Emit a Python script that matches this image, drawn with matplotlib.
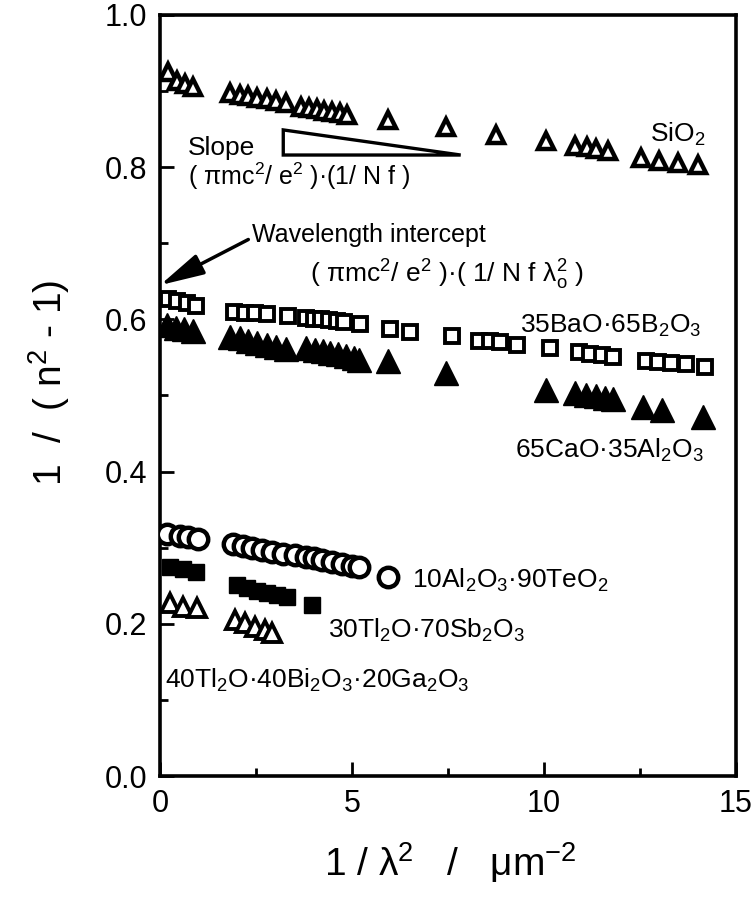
import matplotlib
matplotlib.use("Agg")
import matplotlib.pyplot as plt
from matplotlib.patches import Polygon
from matplotlib.ticker import MultipleLocator, FormatStrFormatter

plt.rcParams['font.family'] = ['Liberation Sans', 'DejaVu Sans']
plt.rcParams['mathtext.fontset'] = 'custom'
plt.rcParams['mathtext.rm'] = 'Liberation Sans'
plt.rcParams['mathtext.it'] = 'Liberation Sans:italic'
plt.rcParams['mathtext.default'] = 'regular'

# ---------------- data ----------------
sio2_x = [0.2, 0.45, 0.65, 0.85, 1.83, 2.09, 2.3, 2.53, 2.78, 3.03, 3.29,
          3.68, 3.89, 4.09, 4.28, 4.49, 4.70, 4.88, 5.95, 7.44, 8.75, 10.05,
          10.81, 11.12, 11.36, 11.67, 12.53, 13.0, 13.5, 14.0]
sio2_y = [0.925, 0.913, 0.909, 0.906, 0.897, 0.895, 0.893, 0.891, 0.889, 0.887,
          0.884, 0.879, 0.878, 0.876, 0.874, 0.872, 0.871, 0.869, 0.862, 0.853,
          0.842, 0.835, 0.828, 0.826, 0.824, 0.821, 0.812, 0.808, 0.805, 0.803]

bao_x = [0.2, 0.45, 0.7, 0.95, 1.93, 2.22, 2.48, 2.79, 3.34, 3.79, 4.0, 4.18,
         4.39, 4.6, 4.78, 5.2, 6.0, 6.5, 7.6, 8.3, 8.6, 8.85, 9.3, 10.15, 10.9,
         11.2, 11.5, 11.8, 12.65, 12.97, 13.3, 13.7, 14.2]
bao_y = [0.627, 0.624, 0.621, 0.618, 0.610, 0.609, 0.608, 0.607, 0.605, 0.602,
         0.601, 0.600, 0.599, 0.598, 0.597, 0.594, 0.588, 0.583, 0.578, 0.572,
         0.571, 0.570, 0.567, 0.562, 0.557, 0.555, 0.553, 0.550, 0.545, 0.544,
         0.543, 0.542, 0.538]

cao_x = [0.17, 0.42, 0.63, 0.86, 1.83, 2.09, 2.3, 2.53, 2.78, 3.03, 3.29,
         3.79, 4.04, 4.24, 4.44, 4.64, 4.84, 5.04, 5.19, 5.95, 7.45, 10.05,
         10.8, 11.1, 11.35, 11.6, 11.8, 12.58, 13.08, 14.13]
cao_y = [0.592, 0.589, 0.587, 0.585, 0.577, 0.575, 0.572, 0.569, 0.566, 0.564,
         0.561, 0.563, 0.560, 0.558, 0.556, 0.554, 0.552, 0.549, 0.547, 0.545,
         0.530, 0.507, 0.503, 0.501, 0.499, 0.497, 0.495, 0.485, 0.481, 0.472]

teo_x = [0.18, 0.52, 0.73, 0.99, 1.9, 2.17, 2.4, 2.66, 2.92, 3.21, 3.52, 3.79,
         4.0, 4.23, 4.49, 4.75, 5.01, 5.17, 5.93]
teo_y = [0.318, 0.316, 0.314, 0.312, 0.305, 0.302, 0.300, 0.297, 0.295, 0.292,
         0.290, 0.288, 0.286, 0.284, 0.281, 0.279, 0.276, 0.274, 0.262]

sb_x = [0.25, 0.6, 0.95, 2.0, 2.27, 2.53, 2.79, 3.05, 3.31, 3.97]
sb_y = [0.275, 0.272, 0.268, 0.251, 0.247, 0.243, 0.240, 0.238, 0.235, 0.225]

ga_x = [0.26, 0.6, 0.97, 1.96, 2.22, 2.48, 2.74, 2.92]
ga_y = [0.227, 0.222, 0.221, 0.205, 0.201, 0.196, 0.192, 0.188]

x_ticks = [0, 5, 10, 15]
y_ticks = [0.0, 0.2, 0.4, 0.6, 0.8, 1.0]

# ---------------- figure ----------------
fig = plt.figure(figsize=(7.54, 8.99), dpi=100)
ax = fig.add_axes([160/754, 123/899, 576/754, 761/899])

ax.plot(sio2_x, sio2_y, linestyle='none', marker='^', ms=11, mfc='white',
        mec='black', mew=3.2, zorder=3)
ax.plot(bao_x, bao_y, linestyle='none', marker='s', ms=9.5, mfc='white',
        mec='black', mew=2.8, zorder=3)
ax.plot(cao_x, cao_y, linestyle='none', marker='^', ms=17, mfc='black',
        mec='black', mew=1, zorder=3)
ax.plot(teo_x, teo_y, linestyle='none', marker='o', ms=14, mfc='white',
        mec='black', mew=3.2, zorder=3)
ax.plot(sb_x, sb_y, linestyle='none', marker='s', ms=11, mfc='black',
        mec='black', mew=1, zorder=3)
ax.plot(ga_x, ga_y, linestyle='none', marker='^', ms=13, mfc='white',
        mec='black', mew=2.8, zorder=3)

ax.set_xlim(0, 15)
ax.set_ylim(0, 1.0)
ax.set_xticks(x_ticks)
ax.set_yticks(y_ticks)
ax.xaxis.set_minor_locator(MultipleLocator(2.5))
ax.yaxis.set_minor_locator(MultipleLocator(0.1))
ax.yaxis.set_major_formatter(FormatStrFormatter('%.1f'))
ax.tick_params(which='both', direction='in', width=2, top=False, right=False,
               labelsize=22)
ax.tick_params(which='major', length=10, pad=9)
ax.tick_params(which='minor', length=6)
for s in ax.spines.values():
    s.set_linewidth(2.6)

ax.set_xlabel(r"1 / $\lambda^2$   /   $\mu$m$^{-2}$", fontsize=28)
ax.set_ylabel(r"1  /  ( n$^{2}$ - 1)", fontsize=28)
ax.xaxis.set_label_coords(0.503, -0.085)
ax.yaxis.set_label_coords(-0.153, 0.516)

fs = 19
ax.text(12.76, 0.833, r"SiO$_2$", fontsize=fs, va='baseline')
ax.text(0.73, 0.816, "Slope", fontsize=fs, va='baseline')
ax.text(0.73, 0.776, r"( $\pi$mc$^2$/ e$^2$ )·(1/ N f )", fontsize=18, va='baseline')
ax.text(2.4, 0.702, "Wavelength intercept", fontsize=18, va='baseline')
ax.text(3.9, 0.649, r"( $\pi$mc$^2$/ e$^2$ )·( 1/ N f $\lambda_o^2$ )", fontsize=fs,
        va='baseline')
ax.text(9.38, 0.582, r"35BaO·65B$_2$O$_3$", fontsize=fs, va='baseline')
ax.text(9.25, 0.418, r"65CaO·35Al$_2$O$_3$", fontsize=fs, va='baseline')
ax.text(6.56, 0.247, r"10Al$_2$O$_3$·90TeO$_2$", fontsize=fs, va='baseline')
ax.text(4.37, 0.181, r"30Tl$_2$O·70Sb$_2$O$_3$", fontsize=fs, va='baseline')
ax.text(0.13, 0.116, r"40Tl$_2$O·40Bi$_2$O$_3$·20Ga$_2$O$_3$", fontsize=fs,
        va='baseline')

tri = Polygon([(3.21, 0.849), (3.21, 0.816), (7.83, 0.816)], closed=True,
              fill=False, edgecolor='black', lw=2.4, joinstyle='miter', zorder=4)
ax.add_patch(tri)

ax.annotate("", xy=(0.0, 0.645), xytext=(2.3, 0.705),
            arrowprops=dict(arrowstyle="-|>,head_length=0.9,head_width=0.22",
                            lw=2.5, color='black', mutation_scale=30,
                            shrinkA=0, shrinkB=0),
            annotation_clip=False, zorder=5)

fig.savefig("out.png", dpi=100)
